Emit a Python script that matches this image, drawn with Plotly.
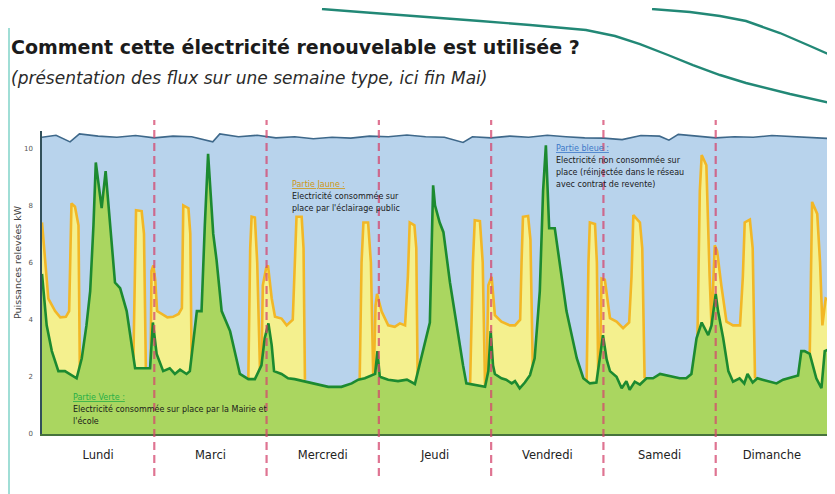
import plotly.graph_objects as go

# ---------------- data (hours since Monday 00:00, kW) ----------------
days = ["Lundi", "Marci", "Mercredi", "Jeudi", "Vendredi", "Samedi", "Dimanche"]
day_mid_hours = [12, 36, 60, 84, 108, 132, 156]
day_sep_hours = [24, 48, 72, 96, 120, 144]
y_ticks = [0, 2, 4, 6, 8, 10]

green_h = [0, 1.0, 2.1, 3.5, 4.9, 6.0, 7.4, 8.5, 9.5, 10.3, 11.0, 11.5, 12.75, 13.6, 14.5, 15.6, 16.7, 18.1,
           19.9, 22.4, 23.1, 23.7, 24.5, 25.9, 27.3, 28.4, 29.5, 30.9, 31.6, 33.1, 34.1, 34.8, 35.5, 36.6,
           37.3, 38.4, 40.2, 42.3, 44.1, 45.5, 46.9, 47.6, 48.4, 49.1, 49.6, 51.2, 52.6, 54.0, 56.0, 58.3,
           61.2, 64.0, 66.2, 67.6, 69.0, 71.2, 71.7, 72.2, 74.0, 76.1, 78.0, 79.7, 81.1, 82.2, 82.9, 83.6,
           84.0, 85.0, 85.8, 87.2, 88.6, 90.0, 90.7, 92.2, 94.7, 95.4, 95.9, 96.4, 96.8, 98.2, 99.2, 100.4,
           101.1, 102.1, 103.2, 104.3, 105.3, 106.4, 107.1, 107.7, 108.4, 109.6, 110.7, 112.1, 114.3, 115.7,
           117.1, 118.5, 119.6, 119.9, 120.7, 121.4, 122.8, 123.9, 124.9, 125.6, 126.7, 127.8, 129.2, 130.6,
           132.1, 133.5, 134.9, 136.3, 137.7, 138.8, 139.9, 141.0, 142.4, 143.1, 144.0, 144.5, 145.6, 146.7,
           147.7, 149.1, 150.1, 150.8, 151.9, 152.9, 154.0, 157.0, 158.4, 160.5, 161.6, 162.3, 163.0, 164.1,
           165.5, 166.6, 167.3, 168.0]
green_kw = [5.6, 3.8, 2.9, 2.2, 2.2, 2.1, 1.95, 2.65, 3.8, 5.0, 7.3, 9.5, 7.9, 9.2, 7.3, 5.3, 5.1, 4.3,
            2.3, 2.3, 2.3, 3.9, 2.8, 2.2, 2.3, 2.1, 2.25, 2.1, 2.2, 4.3, 4.3, 7.3, 9.8, 7.0,
            6.1, 4.3, 3.6, 2.1, 1.92, 1.92, 2.4, 3.35, 3.87, 3.1, 2.2, 2.1, 1.95, 1.92, 1.85, 1.77,
            1.65, 1.65, 1.77, 1.9, 1.95, 2.1, 2.9, 2.0, 1.9, 1.85, 1.9, 1.75, 2.65, 3.35, 3.9, 8.7,
            8.0, 7.4, 7.06, 5.3, 3.8, 2.4, 1.77, 1.73, 1.65, 2.2, 3.6, 2.4, 2.1, 1.95, 1.9, 1.77,
            1.85, 1.6, 1.8, 2.06, 2.65, 5.0, 8.5, 10.1, 7.2, 7.2, 5.9, 4.3, 2.65, 1.95,
            1.77, 1.8, 3.1, 3.46, 2.6, 2.2, 2.0, 1.6, 1.85, 1.55, 1.83, 1.73, 1.95, 1.95,
            2.1, 2.05, 2.0, 1.95, 1.95, 2.1, 3.35, 3.9, 3.46, 3.8, 4.9, 4.3, 3.35, 2.2,
            1.83, 1.95, 1.77, 2.1, 1.8, 1.95, 1.9, 1.77, 1.9, 2.0, 2.05, 2.9, 2.9, 2.8,
            1.95, 1.6, 2.9, 2.95]

# public lighting (yellow) : blocks separated by None
yellow_h = [0, 1.35, 2.8, 3.9, 5.1, 5.8, 6.3, 7.05, 7.8, 8.1, None,
            19.5, 19.9, 20.1, 21.3, 21.8, 22.2, None,
            23.2, 23.4, 23.8, 24.2, 24.6, 26.8, 28.0, 29.2, 29.9, 30.2, 31.3, 31.7, 32.0, None,
            44.1, 44.5, 44.8, 45.5, 46.0, 46.6, None,
            46.9, 47.2, 47.9, 48.3, 49.1, 49.8, 51.2, 52.3, 53.6, 54.0, 54.4, 55.5, 55.9, 56.2, None,
            67.9, 68.3, 68.7, 69.7, 70.3, 70.8, None,
            70.9, 71.3, 71.6, 72.6, 74.0, 75.4, 76.5, 77.6, 78.2, 78.6, 79.6, 80.0, 80.3, None,
            91.5, 92.1, 92.5, 93.6, 94.2, 94.7, None,
            95.0, 95.4, 96.1, 96.8, 98.2, 100.0, 101.1, 102.2, 102.5, 102.8, 103.9, 104.4, 104.9, None,
            116.4, 116.8, 117.1, 118.2, 118.6, 118.9, None,
            119.2, 119.6, 120.3, 121.4, 122.8, 124.2, 125.5, 126.0, 126.4, 127.8, 128.3, 128.8, None,
            140.1, 140.6, 141.0, 142.0, 142.7, 143.1, 143.8, 144.3, 145.2, 146.3, 147.7, 149.2, 149.8,
            150.2, 151.3, 151.9, 152.4, None,
            164.1, 164.6, 165.7, 166.3, 166.8, 167.5, 168.0]
yellow_kw = [7.4, 4.74, 4.3, 4.08, 4.1, 4.3, 8.07, 7.95, 7.3, 2.0, None,
             2.3, 6.5, 7.83, 7.8, 7.0, 2.3, None,
             2.3, 5.7, 5.9, 5.4, 4.3, 4.08, 4.1, 4.2, 4.4, 8.0, 7.9, 7.0, 2.2, None,
             1.95, 6.5, 7.6, 7.57, 6.0, 2.2, None,
             2.4, 5.2, 5.8, 5.9, 4.74, 4.1, 4.04, 3.8, 4.0, 6.0, 7.6, 7.6, 6.5, 1.9, None,
             1.9, 6.0, 7.4, 7.4, 6.0, 2.0, None,
             2.0, 4.5, 4.9, 4.28, 3.8, 3.75, 3.87, 3.8, 5.5, 7.4, 7.3, 6.5, 1.8, None,
             1.73, 6.0, 7.48, 7.45, 6.0, 1.65, None,
             1.8, 5.2, 5.5, 4.16, 3.93, 3.8, 3.8, 4.0, 6.0, 7.6, 7.63, 6.8, 2.3, None,
             1.8, 6.0, 7.4, 7.35, 6.0, 1.8, None,
             2.0, 5.44, 5.4, 4.05, 3.93, 3.7, 3.9, 5.5, 7.66, 7.4, 6.5, 1.95, None,
             3.4, 8.5, 9.76, 9.4, 5.5, 3.8, 6.6, 6.4, 5.2, 3.93, 3.8, 3.8, 5.5,
             7.4, 7.5, 6.5, 1.95, None,
             2.8, 8.12, 7.7, 6.0, 3.8, 4.74, 4.7]

# total production (blue top)
blue_h = [0, 3, 6, 8, 12, 16, 20, 24, 28, 32, 36.5, 38, 42, 46, 50, 54, 58, 62, 66, 70, 74, 78, 82, 86,
          90, 92, 96, 100, 104, 108, 112, 116, 120, 124, 128, 132, 134, 136, 140, 144, 148, 152, 156, 160,
          164, 168]
blue_kw = [10.38, 10.45, 10.22, 10.5, 10.42, 10.38, 10.44, 10.36, 10.42, 10.4, 10.22, 10.5, 10.4, 10.45,
           10.36, 10.4, 10.33, 10.38, 10.35, 10.42, 10.4, 10.46, 10.4, 10.38, 10.2, 10.4, 10.36, 10.42,
           10.38, 10.45, 10.4, 10.36, 10.35, 10.3, 10.44, 10.42, 10.28, 10.48, 10.42, 10.36, 10.4, 10.38,
           10.44, 10.4, 10.36, 10.34]

# ---------------- layout geometry (page pixels; the page body adds an 8px offset) ----------------
W, H = 835, 494
OFF = 8
PLOT_L, PLOT_R, PLOT_T, PLOT_B = 42, 828, 131, 434
ML, MT = PLOT_L - OFF, PLOT_T - OFF
MR, MB = W - PLOT_R, H - PLOT_B
FW, FH = W - OFF, H - OFF
PW, PH = PLOT_R - PLOT_L, PLOT_B - PLOT_T


def px(x):
    return (x - PLOT_L) / PW


def py(y):
    return (PLOT_B - y) / PH


def split_blocks(xs, ys):
    out, cx, cy = [], [], []
    for a, b in zip(xs, ys):
        if a is None:
            if cx:
                out.append((cx, cy))
            cx, cy = [], []
        else:
            cx.append(a)
            cy.append(b)
    if cx:
        out.append((cx, cy))
    return out


fig = go.Figure()

fig.add_trace(go.Scatter(x=blue_h, y=blue_kw, mode="lines", fill="tozeroy",
                         fillcolor="rgb(184,211,236)", line=dict(color="rgb(62,104,138)", width=1.6),
                         hoverinfo="skip", showlegend=False))
for bx, by in split_blocks(yellow_h, yellow_kw):
    fig.add_trace(go.Scatter(x=bx, y=by, mode="lines", fill="tozeroy",
                             fillcolor="rgb(244,240,142)", line=dict(color="rgb(242,183,38)", width=2.6),
                             hoverinfo="skip", showlegend=False))
fig.add_trace(go.Scatter(x=green_h, y=green_kw, mode="lines", fill="tozeroy",
                         fillcolor="rgb(170,214,96)", line=dict(color="rgb(28,138,48)", width=2.6),
                         hoverinfo="skip", showlegend=False))

shapes = []
# right edge closing lines
shapes.append(dict(type="line", xref="x", yref="y", x0=blue_h[-1], x1=blue_h[-1], y0=yellow_kw[-1],
                   y1=blue_kw[-1], line=dict(color="rgb(62,104,138)", width=1.6)))
shapes.append(dict(type="line", xref="x", yref="y", x0=green_h[-1], x1=green_h[-1], y0=0,
                   y1=green_kw[-1], line=dict(color="rgb(28,138,48)", width=2)))
# day separators
for h in day_sep_hours:
    shapes.append(dict(type="line", xref="x", yref="paper", x0=h, x1=h, y0=py(476), y1=py(120),
                       line=dict(color="rgba(212,70,110,0.75)", width=2.2, dash="8px,5px"), layer="above"))


# decorative teal curves
def path(points):
    s = "M %.4f,%.4f" % (px(points[0][0]), py(points[0][1]))
    for (a, b) in points[1:]:
        s += " L %.4f,%.4f" % (px(a), py(b))
    return s


curveA = [(322, 9), (360, 12), (400, 15), (440, 18), (480, 21), (530, 25), (586, 30), (615, 36),
          (640, 44), (668, 55), (693, 65), (720, 75), (746, 83), (790, 94), (835, 104)]
curveB = [(652, 9), (690, 12), (720, 16), (746, 21), (780, 33), (810, 46), (835, 57)]
for c in (curveA, curveB):
    shapes.append(dict(type="path", xref="paper", yref="paper", path=path(c),
                       line=dict(color="rgb(34,136,118)", width=2.4)))
# left border line of the slide
shapes.append(dict(type="line", xref="paper", yref="paper", x0=px(9), x1=px(9), y0=py(28), y1=py(494),
                   line=dict(color="rgb(160,222,214)", width=2)))

annotations = []
font_main = "DejaVu Sans, Arial, sans-serif"
annotations.append(dict(xref="paper", yref="paper", x=px(9), y=py(47), xanchor="left", yanchor="middle",
                        text="<b>Comment cette électricité renouvelable est utilisée ?</b>", showarrow=False,
                        font=dict(family=font_main, size=19, color="#1b1b1b")))
annotations.append(dict(xref="paper", yref="paper", x=px(9), y=py(78), xanchor="left", yanchor="middle",
                        text="<i>(présentation des flux sur une semaine type, ici fin Mai)</i>", showarrow=False,
                        font=dict(family=font_main, size=17, color="#2a2a2a")))
annotations.append(dict(xref="paper", yref="paper", x=px(17), y=py(262), xanchor="center", yanchor="middle",
                        text="Puissances relevées kW", textangle=-90, showarrow=False,
                        font=dict(family=font_main, size=9.5, color="#444")))


def block(x0, y0, head, head_color, lines):
    annotations.append(dict(xref="paper", yref="paper", x=px(x0), y=py(y0), xanchor="left", yanchor="middle",
                            text="<u>" + head + "</u>", showarrow=False,
                            font=dict(family=font_main, size=8, color=head_color)))
    for i, t in enumerate(lines):
        annotations.append(dict(xref="paper", yref="paper", x=px(x0), y=py(y0 + 12 * (i + 1)),
                                xanchor="left", yanchor="middle", text=t, showarrow=False,
                                font=dict(family=font_main, size=8, color="#1a1a1a")))


block(71, 397, "Partie Verte :", "rgb(40,175,70)",
      ["Electricité consommée sur place par la Mairie et", "l'école"])
block(290, 184, "Partie Jaune :", "rgb(205,150,20)",
      ["Electricité consommée sur", "place par l'éclairage public"])
block(554, 148, "Partie bleue :", "rgb(60,120,200)",
      ["Electricité non consommée sur", "place (réinjectée dans le réseau", "avec contrat de revente)"])

fig.update_layout(
    width=FW, height=FH, margin=dict(l=ML, r=MR, t=MT, b=MB, autoexpand=False),
    paper_bgcolor="white", plot_bgcolor="white",
    shapes=shapes, annotations=annotations,
    xaxis=dict(range=[0, 168], tickvals=day_mid_hours, ticktext=days, ticks="outside", ticklen=9,
               tickcolor="rgba(0,0,0,0)", showgrid=False, zeroline=False, showline=True,
               linecolor="rgb(70,115,60)", linewidth=1.5, automargin=False,
               tickfont=dict(family=font_main, size=11.5, color="#222")),
    yaxis=dict(range=[0, 10.6], tickvals=y_ticks, ticks="outside", ticklen=6,
               tickcolor="rgba(0,0,0,0)", showgrid=False, zeroline=False, showline=True,
               linecolor="rgb(50,80,90)", linewidth=1.5, automargin=False,
               tickfont=dict(family=font_main, size=7, color="#555")),
)

fig.write_html("out.html")
